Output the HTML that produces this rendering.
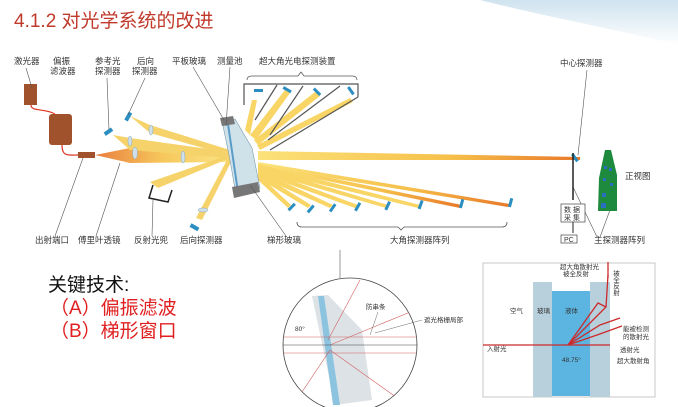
<!DOCTYPE html>
<html><head><meta charset="utf-8"><style>
html,body{margin:0;padding:0;background:#fff;}
svg{display:block}
text{font-family:"Liberation Sans","Noto Sans CJK SC",sans-serif;}
</style></head><body>
<svg width="678" height="407" viewBox="0 0 678 407" xmlns="http://www.w3.org/2000/svg">
<defs>
<linearGradient id="corner" x1="0" y1="0" x2="0" y2="1">
<stop offset="0" stop-color="#cfe3ef"/><stop offset="1" stop-color="#ffffff"/></linearGradient>
<linearGradient id="beamL" x1="0" y1="0" x2="1" y2="0">
<stop offset="0" stop-color="#e8712a"/><stop offset="0.5" stop-color="#f6c24a"/><stop offset="1" stop-color="#fbe27a"/></linearGradient>
<linearGradient id="beamR" x1="0" y1="0" x2="1" y2="0">
<stop offset="0" stop-color="#fbe27a"/><stop offset="0.6" stop-color="#f6c04a"/><stop offset="1" stop-color="#e8782a"/></linearGradient>
</defs>
<path d="M480 0 H678 V45 C620 30 560 20 480 0Z" fill="url(#corner)"/>
<text x="14" y="27" font-size="19" fill="#c0392b">4.1.2  对光学系统的改进</text>

<!-- labels top -->
<g font-size="8.5" fill="#333">
<text x="14" y="64">激光器</text>
<text x="53" y="64">偏振</text><text x="50" y="74">滤波器</text>
<text x="95" y="64">参考光</text><text x="95" y="74">探测器</text>
<text x="137" y="64">后向</text><text x="132" y="74">探测器</text>
<text x="172" y="64">平板玻璃</text>
<text x="217" y="64">测量池</text>
<text x="259" y="64">超大角光电探测装置</text>
<text x="560" y="66">中心探测器</text>
<text x="625" y="179">正视图</text>
<text x="35" y="243">出射端口</text>
<text x="78" y="243">傅里叶透镜</text>
<text x="134" y="243">反射光兜</text>
<text x="180" y="243">后向探测器</text>
<text x="267" y="243">梯形玻璃</text>
<text x="390" y="243">大角探测器阵列</text>
<text x="594" y="243">主探测器阵列</text>
</g>

<!-- beams left -->
<g opacity="0.9">
<polygon points="95,155 130,148 230,154 230,162 130,163" fill="url(#beamL)"/>
<polygon points="113,135 130,138 230,152 228,158 130,150" fill="#f6cf5a"/>
<polygon points="130,116 150,125 230,150 228,155 150,133" fill="#f6cf5a"/>
<polygon points="150,182 158,188 230,158 228,155" fill="#f6cf5a"/>
<polygon points="196,218 202,220 232,160 228,158" fill="#f6cf5a"/>
</g>
<!-- beams right upper -->
<g fill="#f8d565">
<polygon points="245,130 252,100 257,100 250,135"/>
<polygon points="250,135 285,90 290,93 256,140"/>
<polygon points="254,140 315,92 320,96 258,145"/>
<polygon points="257,145 350,98 353,102 260,150"/>
<polygon points="258,151 580,157 580,160 258,160" fill="url(#beamR)"/>
<polygon points="258,162 510,204 508,207 258,166" fill="url(#beamR)"/>
<polygon points="258,163 462,205 460,208 258,167" fill="url(#beamR)"/>
<polygon points="258,164 420,205 418,208 258,169"/>
<polygon points="258,166 388,205 386,208 258,171"/>
<polygon points="258,168 358,205 355,208 258,173"/>
<polygon points="258,170 333,205 330,208 258,176"/>
<polygon points="258,172 311,205 308,208 258,178"/>
<polygon points="258,174 291,205 288,208 258,180"/>
</g>
<g stroke="#555" stroke-width="1.2">
<line x1="255" y1="120" x2="277" y2="85"/><line x1="270" y1="135" x2="303" y2="86"/>
<line x1="268" y1="140" x2="340" y2="86"/><line x1="270" y1="150" x2="358" y2="97"/>
</g>
<polyline points="244,105 244,84 358,84 358,97" fill="none" stroke="#555" stroke-width="1.2"/>
<path d="M247 80 Q247 76 252 76 L298 76 L301 72 L304 76 L352 76 Q357 76 357 80" fill="none" stroke="#555" stroke-width="0.8"/>
<path d="M297 222 Q297 227 302 227 L398 227 L401 230 L404 227 L502 227 Q507 227 507 222" fill="none" stroke="#555" stroke-width="0.8"/>

<!-- cell -->
<polygon points="222,121 235,119 252,148 260,188 236,195 230,160" fill="#cfe2ea" stroke="#7a9aa8" stroke-width="0.6"/>
<line x1="228" y1="124" x2="238" y2="192" stroke="#5a9cc8" stroke-width="2"/>
<polygon points="220,118 233,116 235,124 222,126" fill="#777"/>
<polygon points="232,187 258,182 260,192 234,198" fill="#777"/>

<!-- laser & filter -->
<rect x="24" y="84" width="13" height="21" fill="#a0522d"/>
<rect x="49" y="114" width="23" height="31" rx="3" fill="#a0522d"/>
<rect x="78" y="152" width="17" height="6" fill="#a0522d"/>
<path d="M31 105 C31 112 45 108 55 114 M62 145 C62 157 68 155 78 155" fill="none" stroke="#d32" stroke-width="1.2"/>
<!-- lens/detectors -->
<g fill="#cfe0ea" stroke="#8ab" stroke-width="0.5">
<ellipse cx="135" cy="153" rx="2.5" ry="6"/><ellipse cx="130" cy="141" rx="2" ry="5"/>
<ellipse cx="151" cy="130" rx="2" ry="5"/><ellipse cx="183" cy="157" rx="2" ry="6"/>
<ellipse cx="203" cy="210" rx="5" ry="2"/>
</g>
<g fill="#2a8fc0">
<rect x="104" y="130" width="9" height="4" transform="rotate(-35 108 132)"/>
<rect x="124" y="115" width="9" height="4" transform="rotate(-60 128 117)"/>
<rect x="190" y="225" width="9" height="4" transform="rotate(30 194 227)"/>
<rect x="254" y="89" width="9" height="3"/>
<rect x="283" y="88" width="9" height="3" transform="rotate(30 287 89)"/>
<rect x="313" y="90" width="9" height="3" transform="rotate(45 317 91)"/>
<rect x="347" y="89" width="9" height="3" transform="rotate(55 351 90)"/>
<rect x="571" y="156" width="9" height="3" transform="rotate(55 575 157)"/>
</g>
<g fill="#2a8fc0">
<rect x="287" y="206" width="9" height="3" transform="rotate(-45 291 207)"/>
<rect x="306" y="208" width="9" height="3" transform="rotate(-50 310 209)"/>
<rect x="328" y="207" width="9" height="3" transform="rotate(-55 332 208)"/>
<rect x="353" y="206" width="9" height="3" transform="rotate(-60 357 207)"/>
<rect x="383" y="205" width="9" height="3" transform="rotate(-65 387 206)"/>
<rect x="416" y="204" width="9" height="3" transform="rotate(-70 420 205)"/>
<rect x="457" y="203" width="9" height="3" transform="rotate(-75 461 204)"/>
<rect x="506" y="202" width="9" height="3" transform="rotate(-75 510 203)"/>
</g>
<polyline points="153,185 149,198 168,202 172,190" fill="none" stroke="#222" stroke-width="1.5"/>
<!-- leader lines -->
<g stroke="#555" stroke-width="0.6" fill="none">
<line x1="26" y1="68" x2="32" y2="88"/><line x1="107" y1="78" x2="109" y2="130"/>
<line x1="145" y1="78" x2="128" y2="115"/><line x1="193" y1="67" x2="224" y2="120"/>
<line x1="230" y1="67" x2="226" y2="126"/><line x1="55" y1="236" x2="83" y2="158"/>
<line x1="96" y1="236" x2="120" y2="163"/><line x1="152" y1="236" x2="153" y2="200"/>
<line x1="286" y1="236" x2="250" y2="185"/><line x1="587" y1="70" x2="578" y2="155"/>
<line x1="597" y1="237" x2="573" y2="187"/><line x1="600" y1="237" x2="610" y2="210"/>
<line x1="340" y1="250" x2="340" y2="278"/>
</g>
<line x1="573" y1="153" x2="573" y2="200" stroke="#222" stroke-width="1.5"/>
<line x1="573" y1="222" x2="573" y2="233" stroke="#222" stroke-width="1"/>
<rect x="561" y="204" width="24" height="18" fill="#fff" stroke="#444" stroke-width="0.7"/>
<text x="564" y="212" font-size="7" fill="#333">数 据</text><text x="564" y="220" font-size="7" fill="#333">采 集</text>
<rect x="561" y="235" width="16" height="8" fill="#fff" stroke="#444" stroke-width="0.7"/>
<text x="564" y="242" font-size="7" fill="#333">PC</text>
<polygon points="605,150 611,150 617,175 617,211 598,211 599,178" fill="#1e8a3e"/>
<g fill="#2a6fc0"><rect x="604" y="166" width="3" height="3"/><rect x="609" y="168" width="3" height="3"/><rect x="603" y="178" width="3" height="3"/><rect x="610" y="183" width="3" height="3"/><rect x="602" y="193" width="4" height="4"/><rect x="601" y="203" width="5" height="5"/></g>

<!-- key tech -->
<text x="48" y="291" font-size="19" fill="#111">关键技术:</text>
<text x="50" y="314" font-size="19" fill="#e02020">（A）偏振滤波</text>
<text x="50" y="337" font-size="19" fill="#e02020">（B）梯形窗口</text>

<!-- circle -->
<clipPath id="cc"><circle cx="350" cy="345" r="67"/></clipPath>
<circle cx="350" cy="345" r="67" fill="#fff" stroke="#444" stroke-width="0.8"/>
<g clip-path="url(#cc)">
<polygon points="312,296 328,295 362,330 372,400 335,405" fill="#dde2e6"/>
<polygon points="318,296 324,296 340,405 333,405" fill="#8cc4e0"/>
<g stroke="#d06060" stroke-width="0.6">
<line x1="280" y1="337" x2="420" y2="337"/><line x1="280" y1="353" x2="420" y2="353"/>
<line x1="328" y1="340" x2="360" y2="280"/><line x1="330" y1="345" x2="415" y2="310"/>
<line x1="330" y1="350" x2="400" y2="400"/><line x1="330" y1="350" x2="300" y2="395"/>
</g>
<line x1="280" y1="345" x2="420" y2="345" stroke="#444" stroke-width="0.6"/>
</g>
<g font-size="6.5" fill="#333"><text x="295" y="331">80°</text><text x="366" y="309">防串条</text><text x="424" y="322">遮光格栅局部</text></g>
<line x1="378" y1="312" x2="370" y2="335" stroke="#444" stroke-width="0.4"/>
<line x1="422" y1="320" x2="375" y2="333" stroke="#444" stroke-width="0.4"/>

<!-- right diagram -->
<rect x="483" y="263" width="172" height="134" fill="#fff" stroke="#bbb" stroke-width="0.8"/>
<rect x="533" y="282" width="19" height="115" fill="#b7d0dc"/>
<rect x="552" y="291" width="38" height="105" fill="#5bb5e0"/>
<rect x="590" y="282" width="20" height="115" fill="#b7d0dc"/>
<g stroke="#cc2a2a" stroke-width="1.3" fill="none">
<line x1="483" y1="345" x2="610" y2="345"/>
<polyline points="568,345 606,307 608,275"/>
<polyline points="568,345 598,303 606,307"/>
<polyline points="568,345 600,325 620,318"/>
<polyline points="568,345 597,335 622,326"/>
<line x1="608" y1="278" x2="608" y2="262"/>
</g>
<g font-size="6.5" fill="#333">
<text x="510" y="313">空气</text><text x="537" y="313">玻璃</text><text x="565" y="313">液体</text>
<text x="487" y="351">入射光</text><text x="620" y="352">透射光</text>
<text x="562" y="362">48.75°</text><text x="617" y="363">超大散射角</text>
<text x="623" y="331">能被检测</text><text x="623" y="339">的散射光</text>
<text x="560" y="269">超大角散射光</text><text x="563" y="276">被全反射</text>
</g>
<text x="615" y="270" font-size="6.5" fill="#333" writing-mode="tb">被全反射</text>
</svg>
</body></html>
